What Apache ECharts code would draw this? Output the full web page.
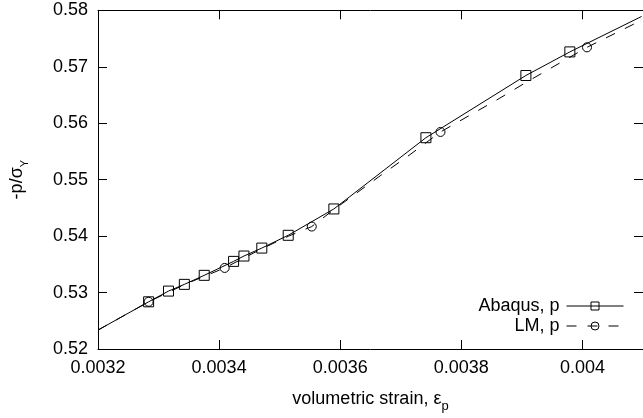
<!DOCTYPE html>
<html><head><meta charset="utf-8">
<script src="https://cdn.jsdelivr.net/npm/echarts@6/dist/echarts.min.js"></script>
<style>html,body{margin:0;padding:0;background:#fff}#c{width:643px;height:418px}</style>
</head><body><div id="c"></div>
<script>
// Axis ticks
const xMin = 0.0032, xMax = 0.0041, xStep = 0.0002;
const yMin = 0.52, yMax = 0.58, yStep = 0.01;

// Abaqus, p : curve points without markers, and marker points
const abaqusCurveStrain = [0.0032, 0.0040977];
const abaqusCurveP      = [0.52335, 0.57891];
const abaqusMarkStrain  = [0.0032836, 0.0033164, 0.0033426, 0.0033754, 0.0034239, 0.0034410,
                           0.0034705, 0.0035141, 0.0035895, 0.0037415, 0.0039066, 0.0039792];
const abaqusMarkP       = [0.52836, 0.53026, 0.53145, 0.53305, 0.53552, 0.53647,
                           0.53788, 0.54014, 0.54481, 0.55743, 0.56845, 0.57263];

// LM, p : curve points without markers, and marker points
const lmCurveStrain = [0.0032, 0.0033464, 0.0034705, 0.0035141, 0.0035895, 0.0036661,
                       0.0037152, 0.0038628, 0.0039066, 0.0040977];
const lmCurveP      = [0.52335, 0.53159, 0.53776, 0.53996, 0.54469, 0.55069,
                       0.55443, 0.56439, 0.56721, 0.57824];
const lmMarkStrain  = [0.0032836, 0.0034092, 0.0035530, 0.0037656, 0.0040075];
const lmMarkP       = [0.52836, 0.53436, 0.54169, 0.55845, 0.57344];

function build(cx, cy, mx, my) {
  const pts = [];
  cx.forEach((x, i) => pts.push({ value: [x, cy[i]], symbol: 'none' }));
  mx.forEach((x, i) => pts.push({ value: [x, my[i]] }));
  pts.sort((a, b) => a.value[0] - b.value[0]);
  return pts;
}

const FONT = 'Liberation Sans, Arial, Helvetica, sans-serif';
const fmtX = v => String(parseFloat(v.toFixed(4)));
const fmtY = v => v.toFixed(2);

const axisCommon = {
  type: 'value',
  axisLine: { show: true, onZero: false, lineStyle: { color: '#000', width: 1 } },
  axisTick: { show: true, inside: true, length: 9, lineStyle: { color: '#000', width: 1 } },
  splitLine: { show: false }
};

const chart = echarts.init(document.getElementById('c'), null, { renderer: 'canvas' });
chart.setOption({
  animation: false,
  backgroundColor: '#fff',
  grid: { left: 95.7, right: -1.7, top: 10.3, bottom: 67.3, containLabel: false },
  xAxis: [
    Object.assign({}, axisCommon, {
      position: 'bottom', min: xMin, max: xMax, interval: xStep,
      axisLabel: { show: true, fontSize: 18, color: '#000', fontFamily: FONT, margin: 10,
                   formatter: fmtX, showMaxLabel: false },
      name: '{a|volumetric strain, ε}{s|p}', nameLocation: 'middle', nameGap: 41,
      nameTextStyle: { fontFamily: FONT, color: '#000',
        rich: { a: { fontSize: 18, fontFamily: FONT, color: '#000' },
                s: { fontSize: 13, fontFamily: FONT, color: '#000', verticalAlign: 'bottom', padding: [0, 0, -5, 0] } } }
    }),
    Object.assign({}, axisCommon, {
      position: 'top', min: xMin, max: xMax, interval: xStep,
      axisLabel: { show: false }
    })
  ],
  yAxis: [
    Object.assign({}, axisCommon, {
      position: 'left', min: yMin, max: yMax, interval: yStep,
      axisLabel: { show: true, fontSize: 18, color: '#000', fontFamily: FONT, margin: 10, formatter: fmtY },
      name: '{a|-p/σ}{s|Y}', nameLocation: 'middle', nameGap: 72,
      nameTextStyle: { fontFamily: FONT, color: '#000',
        rich: { a: { fontSize: 18, fontFamily: FONT, color: '#000' },
                s: { fontSize: 11, fontFamily: FONT, color: '#000', verticalAlign: 'bottom', padding: [0, 0, -4, 0] } } }
    }),
    Object.assign({}, axisCommon, {
      position: 'right', min: yMin, max: yMax, interval: yStep,
      axisLabel: { show: false }
    })
  ],
  legend: {
    data: ['Abaqus, p', 'LM, p'],
    orient: 'vertical', align: 'right', right: 19, top: 297, padding: 0,
    itemWidth: 57, itemHeight: 10, itemGap: 2,
    itemStyle: { borderWidth: 1, borderColor: '#000', color: 'none' },
    lineStyle: { width: 1, color: '#000' },
    textStyle: { fontSize: 18, color: '#000', fontFamily: FONT, padding: [0, 2, 0, 0] },
    selectedMode: false
  },
  series: [
    {
      name: 'Abaqus, p', type: 'line', xAxisIndex: 0, yAxisIndex: 0,
      data: build(abaqusCurveStrain, abaqusCurveP, abaqusMarkStrain, abaqusMarkP),
      symbol: 'rect', symbolSize: 10, showAllSymbol: true,
      lineStyle: { color: '#000', width: 1 },
      itemStyle: { color: 'none', borderColor: '#000', borderWidth: 1 },
      emphasis: { disabled: true }, clip: true
    },
    {
      name: 'LM, p', type: 'line', xAxisIndex: 0, yAxisIndex: 0,
      data: build(lmCurveStrain, lmCurveP, lmMarkStrain, lmMarkP),
      symbol: 'circle', symbolSize: 9, showAllSymbol: true,
      lineStyle: { color: '#000', width: 1, type: [10, 11] },
      itemStyle: { color: 'none', borderColor: '#000', borderWidth: 1 },
      emphasis: { disabled: true }, clip: true
    }
  ]
});
</script>
</body></html>
